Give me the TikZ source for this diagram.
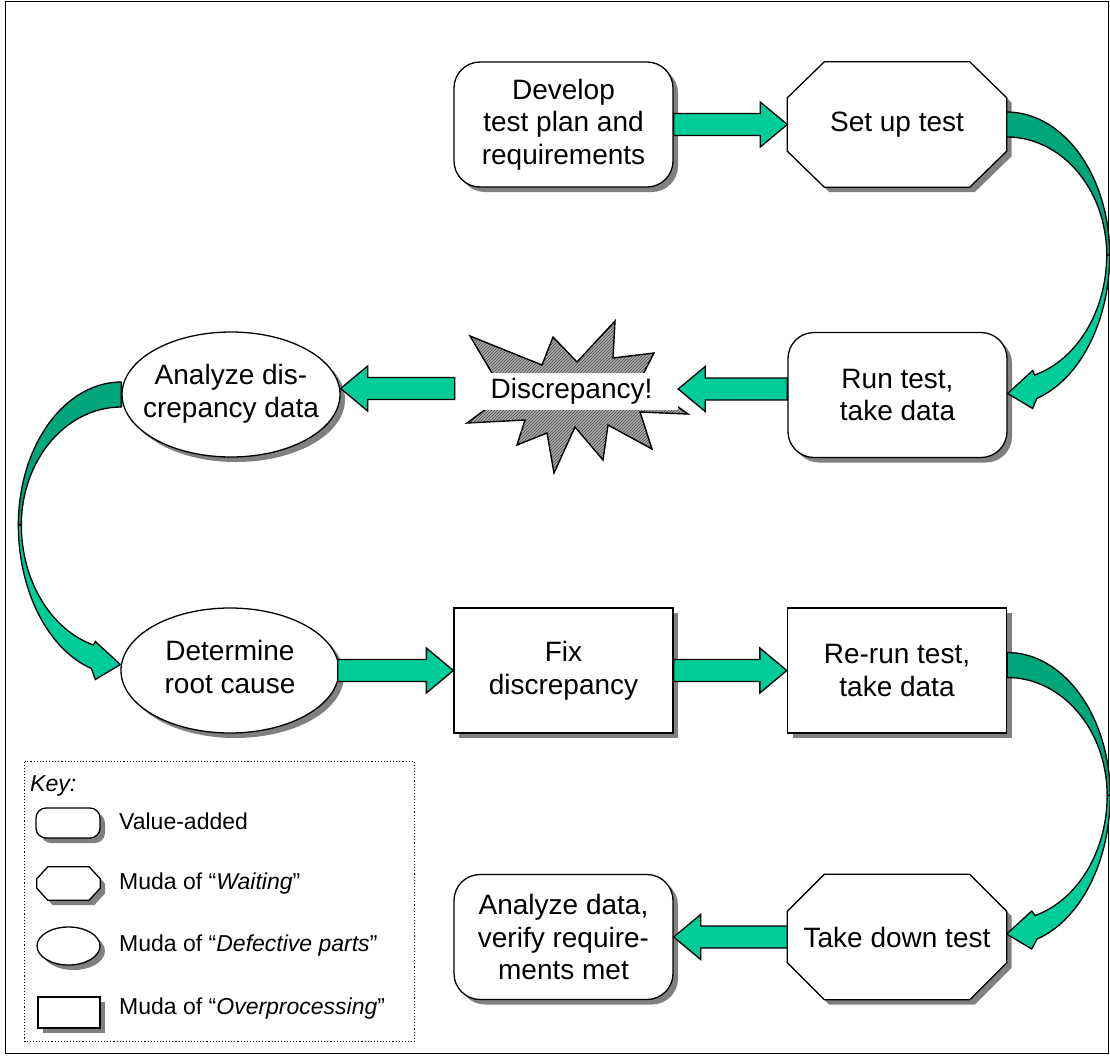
\documentclass[tikz,border=0pt]{standalone}
\usepackage{fontspec}
\setmainfont{Liberation Sans}
\usetikzlibrary{shapes.geometric,shadows,calc,patterns}
\definecolor{lightgrn}{RGB}{0,204,153}
\definecolor{darkgrn}{RGB}{0,166,122}
\definecolor{shadowgray}{RGB}{128,128,128}
\pgfdeclarelayer{back}
\pgfsetlayers{back,main}
\newcommand\bigtxt{\fontsize{28}{32.5}\selectfont}
\newcommand\keytxt{\fontsize{23}{27}\selectfont}
\newcommand\ellt[1]{\makebox[0pt]{\begin{tabular}{@{}c@{}}#1\end{tabular}}}
\tikzset{
  lw/.style={line width=1.3pt},
  shad/.style={drop shadow={shadow xshift=5pt,shadow yshift=-5pt,fill=shadowgray,opacity=1}},
  mybox/.style={draw,lw,fill=white,shad,minimum width=219pt,minimum height=125pt,inner sep=0pt,align=center,font=\bigtxt},
  vabox/.style={mybox,rectangle,rounded corners=26pt},
  ovbox/.style={mybox,rectangle},
  dfbox/.style={mybox,ellipse,minimum width=218pt},
  wtbox/.style={draw=none,fill=none,minimum width=219pt,minimum height=125pt,inner sep=0pt,align=center,font=\bigtxt},
  blockarrow/.style={fill=lightgrn,draw=black,lw,line join=miter},
  keylabel/.style={anchor=west,inner sep=0pt,font=\keytxt},
}
% octagon outline around a node
\newcommand\octpath[4]{([xshift={#2+#4},yshift={-#4}]#1.north west) -- ([xshift={-#2+#4},yshift={-#4}]#1.north east) -- ([xshift={#4},yshift={-#3-#4}]#1.north east) -- ([xshift={#4},yshift={#3-#4}]#1.south east) -- ([xshift={-#2+#4},yshift={-#4}]#1.south east) -- ([xshift={#2+#4},yshift={-#4}]#1.south west) -- ([xshift={#4},yshift={#3-#4}]#1.south west) -- ([xshift={#4},yshift={-#3-#4}]#1.north west) -- cycle}
\newcommand\octo[4]{\begin{pgfonlayer}{back}\fill[shadowgray]\octpath{#1}{#2}{#3}{#4};\filldraw[fill=white,lw]\octpath{#1}{#2}{#3}{0pt};\end{pgfonlayer}}
% straight block arrows
\newcommand\blockR[2]{\draw[blockarrow] let \p1=#1,\p2=#2 in (\x1,\y2+11pt) -- (\x2-27pt,\y2+11pt) -- (\x2-27pt,\y2+22.5pt) -- (\x2,\y2) -- (\x2-27pt,\y2-22.5pt) -- (\x2-27pt,\y2-11pt) -- (\x1,\y2-11pt) -- cycle;}
\newcommand\blockL[2]{\draw[blockarrow] let \p1=#1,\p2=#2 in (\x1,\y2+11pt) -- (\x2+27pt,\y2+11pt) -- (\x2+27pt,\y2+22.5pt) -- (\x2,\y2) -- (\x2+27pt,\y2-22.5pt) -- (\x2+27pt,\y2-11pt) -- (\x1,\y2-11pt) -- cycle;}
% curved arrows
\newcommand\curveR[2]{%
\filldraw[fill=darkgrn,lw,line join=round] ($(#1)+(0,-12.5)$) arc[start angle=-90,end angle=0,x radius=103,y radius=143] -- ++(-3,0) arc[start angle=0,end angle=-90,x radius=100,y radius=118] -- cycle;
\filldraw[fill=lightgrn,lw,line join=miter] ($(#1)+(103,130.5)$) arc[start angle=0,end angle=73.07,x radius=103,y radius=150] -- ($(#2)+(25,15)$) -- (#2) -- ($(#2)+(25,-23)$) -- ($(#1)+(28,250.5)$) arc[start angle=73.74,end angle=0,x radius=100,y radius=125] -- cycle;}
\newcommand\curveL[2]{%
\filldraw[fill=darkgrn,lw,line join=round] ($(#1)+(0,-12.5)$) arc[start angle=270,end angle=180,x radius=103,y radius=143] -- ++(3,0) arc[start angle=180,end angle=270,x radius=100,y radius=118] -- cycle;
\filldraw[fill=lightgrn,lw,line join=miter] ($(#1)+(-103,130.5)$) arc[start angle=180,end angle=106.93,x radius=103,y radius=150] -- ($(#2)+(-25,15)$) -- (#2) -- ($(#2)+(-25,-23)$) -- ($(#1)+(-28,250.5)$) arc[start angle=106.26,end angle=180,x radius=100,y radius=125] -- cycle;}
\def\starpath{(470,336) -- (542,365) -- (553,337) -- (577,362) -- (615,321) -- (613,358) -- (654,353) -- (640,380) -- (688,414) -- (640,412) -- (652,449) -- (608,425) -- (603,460) -- (575,427) -- (554,473) -- (547,433) -- (517,445) -- (525,420) -- (467,423) -- (505,395) -- cycle}
\begin{document}
\begin{tikzpicture}[x=1pt,y=-1pt]
\useasboundingbox (0,0) rectangle (1110,1055);
\draw[line width=1pt] (5.5,1.5) rectangle (1108.5,1053.5);

% row 1
\node[vabox] (dev) at (563.5,124.5) {Develop\\test plan and\\requirements};
\node[wtbox] (setup) at (897,124.5) {Set up test};
\octo{setup}{37pt}{36pt}{5pt}
% row 2
\node[vabox] (run) at (897.5,395) {Run test,\\take data};
\fill[gray!65] \starpath;
\fill[pattern=north east lines,pattern color=black!70] \starpath;
\draw[line width=1.4pt,line join=miter] \starpath;
\node[fill=white,inner sep=0pt,minimum width=213pt,minimum height=37pt,font=\bigtxt] (disc) at (571.5,391.5) {Discrepancy!};
\node[dfbox] (ana) at (231,394.5) {\ellt{Analyze dis-\\crepancy data}};
% row 3
\node[dfbox] (det) at (230,670.5) {\ellt{Determine\\root cause}};
\node[ovbox] (fix) at (563.5,670.5) {Fix\\discrepancy};
\node[ovbox] (rerun) at (897,670.5) {Re-run test,\\take data};
% row 4
\node[wtbox] (take) at (897,937) {Take down test};
\octo{take}{37pt}{37pt}{5pt}
\node[vabox] (adata) at (563.5,937) {Analyze data,\\verify require-\\ments met};

% straight arrows
\blockR{(dev.east)}{(setup.west)}
\blockL{(run.west)}{([yshift=2.5pt]disc.east)}
\coordinate (discL) at ($(disc.west)+(-10,0)$);
\blockL{(discL)}{([yshift=6pt]ana.east)}
\blockR{([xshift=-2pt]det.east)}{(fix.west)}
\blockR{(fix.east)}{(rerun.west)}
\blockL{(take.west)}{(adata.east)}

% curved arrows
\coordinate (c1s) at (setup.east);
\coordinate (c1t) at ($(run.east)+(0,-1.5)$);
\curveR{c1s}{c1t}
\coordinate (c2s) at (ana.west);
\coordinate (c2t) at ($(det.west)+(0,-6)$);
\curveL{c2s}{c2t}
\coordinate (c3s) at ($(rerun.east)+(0,-5.5)$);
\coordinate (c3t) at ($(take.east)+(0,-3)$);
\curveR{c3s}{c3t}

% key
\draw[line width=1.1pt,dotted] (24.5,761.5) rectangle (414.5,1041.5);
\node[keylabel,font=\keytxt\itshape] (keyt) at (30,786) {Key:};
\node[draw,lw,fill=white,shad,rounded corners=10pt,minimum width=64pt,minimum height=30pt,inner sep=0pt] (k1) at (68,823) {};
\node[keylabel] (k1t) at (119,821) {Value-added};
\node[minimum width=63pt,minimum height=33pt,inner sep=0pt] (k2) at (68.5,883.5) {};
\octo{k2}{11pt}{12pt}{5pt}
\node[keylabel] (k2t) at (119,884) {Muda of “\textit{Waiting}”};
\node[draw,lw,fill=white,shad,ellipse,minimum width=63pt,minimum height=38pt,inner sep=0pt] (k3) at (68.5,946) {};
\node[keylabel] (k3t) at (119,946) {Muda of “\textit{Defective parts}”};
\node[draw,lw,fill=white,shad,rectangle,minimum width=62pt,minimum height=31pt,inner sep=0pt] (k4) at (69,1012.5) {};
\node[keylabel] (k4t) at (119,1009) {Muda of “\textit{Overprocessing}”};
\end{tikzpicture}
\end{document}
